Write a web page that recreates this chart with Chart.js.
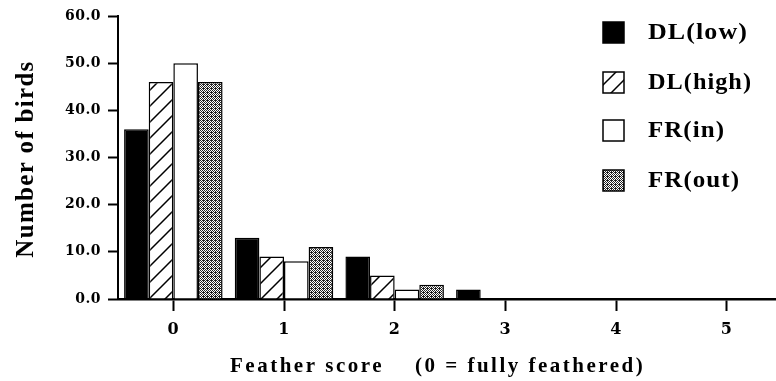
<!DOCTYPE html>
<html lang="en">
<head>
    <meta charset="UTF-8">
    <title>Feather score</title>
    <script src="https://cdn.jsdelivr.net/npm/chart.js"></script>
    <style>
        body {
            margin: 0;
            background: #fff;
            overflow: hidden;
        }
        .chart-container {
            position: relative;
            width: 790px;
            height: 381px;
        }
    </style>
</head>
<body>
    <div class="chart-container">
        <canvas id="featherChart"></canvas>
    </div>

    <script>
        // --- Data ---
        const scores = ['0', '1', '2', '3', '4', '5'];
        const groups = ['DL(low)', 'DL(high)', 'FR(in)', 'FR(out)'];
        const dlLow = [36, 13, 9, 2, 0, 0];
        const dlHigh = [46, 9, 5, 0, 0, 0];
        const frIn = [50, 8, 2, 0, 0, 0];
        const frOut = [46, 11, 3, 0, 0, 0];
        const yTicks = [0, 10, 20, 30, 40, 50, 60];

        const FONT = "'Liberation Serif', 'Times New Roman', serif";
        const TICK_FONT = "'DejaVu Serif', serif";
        const canvas = document.getElementById('featherChart');
        const ctx = canvas.getContext('2d');

        // hatched fill: thin "/" lines
        function makeHatch() {
            const c = document.createElement('canvas');
            c.width = c.height = 16;
            const g = c.getContext('2d');
            g.fillStyle = '#fff';
            g.fillRect(0, 0, 16, 16);
            g.strokeStyle = '#000';
            g.lineWidth = 1.5;
            g.beginPath();
            g.moveTo(-2, 18); g.lineTo(18, -2);
            g.moveTo(-4, 4); g.lineTo(4, -4);
            g.moveTo(12, 20); g.lineTo(20, 12);
            g.stroke();
            return ctx.createPattern(c, 'repeat');
        }

        // stippled fill: fine dark dots
        function makeStipple() {
            const c = document.createElement('canvas');
            c.width = c.height = 4;
            const g = c.getContext('2d');
            g.fillStyle = '#fff';
            g.fillRect(0, 0, 4, 4);
            g.fillStyle = '#222';
            [[0,0],[2,0],[1,1],[3,1],[0,2],[2,2],[1,3],[3,3],[3,0]].forEach(p => g.fillRect(p[0], p[1], 1, 1));
            return ctx.createPattern(c, 'repeat');
        }

        const fills = ['#000', makeHatch(), '#fff', makeStipple()];
        const series = [dlLow, dlHigh, frIn, frOut];

        // squeeze a label into the span it takes in the scanned figure
        function fitWord(c, text, x0, x1, y) {
            const w = c.measureText(text).width;
            c.save();
            c.translate(x0, y);
            c.scale((x1 - x0) / w, 1);
            c.fillText(text, 0, 0);
            c.restore();
        }

        // legend + axis titles, drawn like the printed figure
        const paperText = {
            id: 'paperText',
            beforeDraw(chart) {
                chart.ctx.letterSpacing = '0.5px';
            },
            afterDraw(chart) {
                const c = chart.ctx;
                c.save();
                c.fillStyle = '#000';

                // y title
                c.font = 'bold 25px ' + FONT;
                c.letterSpacing = '1.3px';
                c.textAlign = 'center';
                c.textBaseline = 'alphabetic';
                c.save();
                c.translate(33, 159);
                c.rotate(-Math.PI / 2);
                c.fillText('Number of birds', 0, 0);
                c.restore();

                // x title
                c.font = 'bold 21px ' + FONT;
                c.letterSpacing = '2.5px';
                c.textAlign = 'left';
                c.fillText('Feather score    (0 = fully feathered)', 230, 372);

                // legend
                const rows = [32, 82, 130, 180];
                const ends = [748, 752, 725, 740];
                c.font = 'bold 24px ' + FONT;
                c.letterSpacing = '1px';
                c.textBaseline = 'middle';
                chart.data.datasets.forEach((ds, i) => {
                    const y = rows[i];
                    c.fillStyle = ds.backgroundColor;
                    c.fillRect(603, y - 10, 21, 21);
                    c.strokeStyle = '#000';
                    c.lineWidth = 1.5;
                    c.strokeRect(603, y - 10, 21, 21);
                    c.fillStyle = '#000';
                    fitWord(c, ds.label, 648, ends[i], y + 1);
                });
                c.restore();
            }
        };

        new Chart(ctx, {
            type: 'bar',
            data: {
                labels: scores,
                datasets: groups.map((g, i) => ({
                    label: g,
                    data: series[i],
                    backgroundColor: fills[i],
                    borderColor: '#000',
                    borderWidth: 1.5,
                    categoryPercentage: 0.89,
                    barPercentage: 1.0
                }))
            },
            options: {
                responsive: true,
                maintainAspectRatio: false,
                animation: false,
                layout: { padding: { top: 16, right: 8, left: 0, bottom: 0 } },
                plugins: {
                    legend: { display: false },
                    tooltip: { enabled: false }
                },
                scales: {
                    x: {
                        offset: true,
                        grid: {
                            offset: false,
                            drawOnChartArea: false,
                            tickLength: 12,
                            tickWidth: 2,
                            color: '#000'
                        },
                        border: { color: '#000', width: 2.5 },
                        ticks: {
                            color: '#000',
                            padding: 9,
                            font: { family: TICK_FONT, size: 16, weight: 'bold' }
                        },
                        afterFit(scale) { scale.height = 82; }
                    },
                    y: {
                        min: 0,
                        max: 60,
                        afterBuildTicks(scale) {
                            scale.ticks = yTicks.map(v => ({ value: v }));
                        },
                        grid: {
                            drawOnChartArea: false,
                            tickLength: 10,
                            tickWidth: 2,
                            color: '#000'
                        },
                        border: { color: '#000', width: 2 },
                        ticks: {
                            color: '#000',
                            padding: 7,
                            font: { family: TICK_FONT, size: 14, weight: 'bold' },
                            callback: v => v.toFixed(1)
                        },
                        afterFit(scale) { scale.width = 118; }
                    }
                }
            },
            plugins: [paperText]
        });
    </script>
</body>
</html>
